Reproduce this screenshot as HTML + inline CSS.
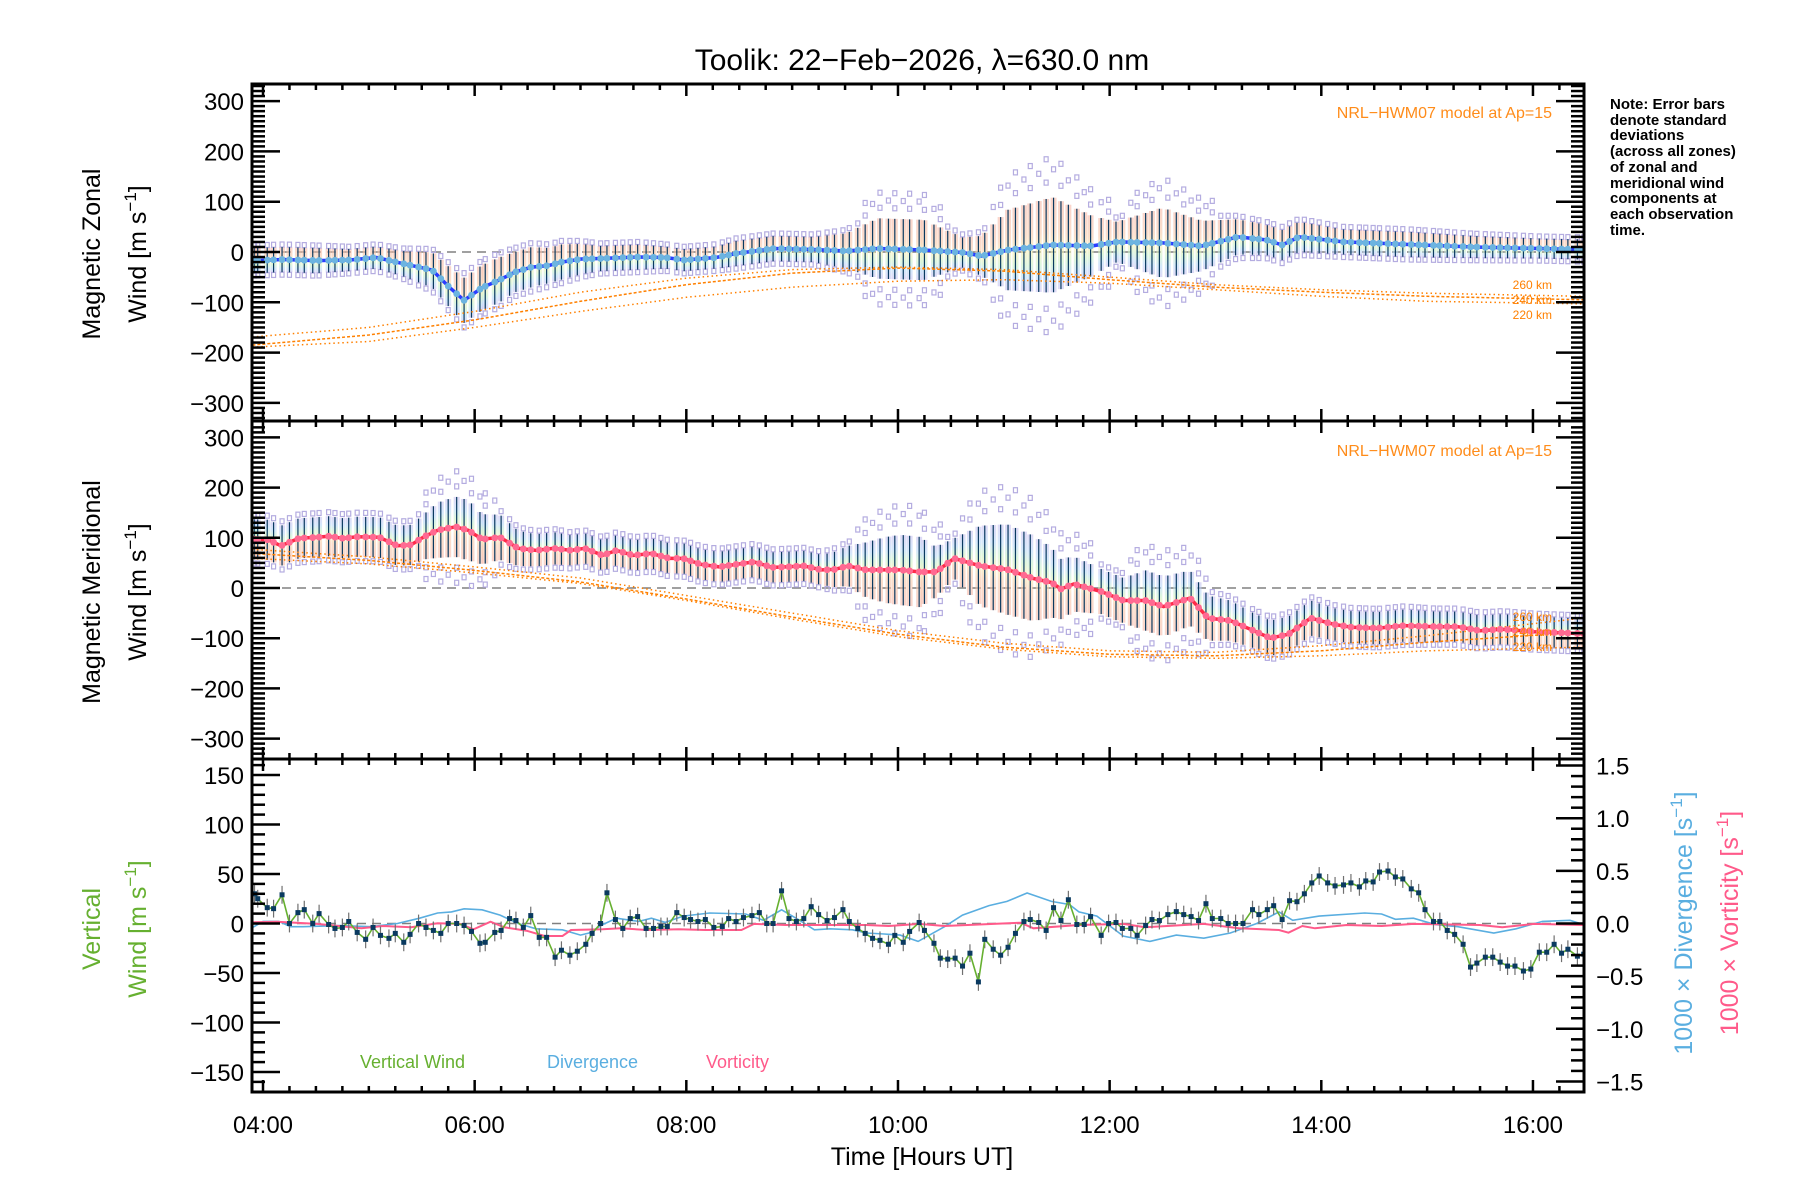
<!DOCTYPE html>
<html><head><meta charset="utf-8"><title>Toolik winds</title>
<style>
html,body{margin:0;padding:0;background:#fff;}
svg{display:block;font-family:"Liberation Sans",sans-serif;}
</style></head>
<body>
<svg id="chart" width="1800" height="1200" viewBox="0 0 1800 1200" xmlns="http://www.w3.org/2000/svg">
<defs>
<linearGradient id="gz" x1="0" y1="0" x2="0" y2="1">
<stop offset="0" stop-color="#f6b8a8"/><stop offset="0.35" stop-color="#f8c8a8"/><stop offset="0.55" stop-color="#f4eeb0"/><stop offset="0.7" stop-color="#c8f0c8"/><stop offset="0.85" stop-color="#b8d8f8"/><stop offset="1" stop-color="#c8c0f0"/>
</linearGradient>
<linearGradient id="gm" x1="0" y1="0" x2="0" y2="1">
<stop offset="0" stop-color="#c8c0f0"/><stop offset="0.2" stop-color="#b8d8f8"/><stop offset="0.35" stop-color="#c8f0c8"/><stop offset="0.5" stop-color="#f4eeb0"/><stop offset="0.65" stop-color="#f8c8a8"/><stop offset="1" stop-color="#f6b8a8"/>
</linearGradient>
</defs>
<g id="layer-data"></g>
<g id="layer-axes"></g>
<text x="922" y="70" font-size="30" text-anchor="middle">Toolik: 22−Feb−2026, λ=630.0 nm</text>
<text transform="translate(100,254) rotate(-90)" font-size="25" text-anchor="middle">Magnetic Zonal</text>
<text transform="translate(146,254) rotate(-90)" font-size="25" text-anchor="middle">Wind [m s<tspan dy="-10" font-size="17">−1</tspan><tspan dy="10">]</tspan></text>
<text transform="translate(100,592) rotate(-90)" font-size="25" text-anchor="middle">Magnetic Meridional</text>
<text transform="translate(146,592) rotate(-90)" font-size="25" text-anchor="middle">Wind [m s<tspan dy="-10" font-size="17">−1</tspan><tspan dy="10">]</tspan></text>
<text transform="translate(100,929) rotate(-90)" font-size="25" text-anchor="middle" fill="#66b030">Vertical</text>
<text transform="translate(146,929) rotate(-90)" font-size="25" text-anchor="middle" fill="#66b030">Wind [m s<tspan dy="-10" font-size="17">−1</tspan><tspan dy="10">]</tspan></text>
<text transform="translate(1692,923) rotate(-90)" font-size="25" text-anchor="middle" fill="#5aaee0">1000 × Divergence [s<tspan dy="-10" font-size="17">−1</tspan><tspan dy="10">]</tspan></text>
<text transform="translate(1738,923) rotate(-90)" font-size="25" text-anchor="middle" fill="#ff5a8a">1000 × Vorticity [s<tspan dy="-10" font-size="17">−1</tspan><tspan dy="10">]</tspan></text>
<text x="922" y="1165" font-size="25" text-anchor="middle">Time [Hours UT]</text>
<text x="1552" y="118" font-size="16" text-anchor="end" fill="#ff8c1a">NRL−HWM07 model at Ap=15</text>
<text x="1552" y="456" font-size="16" text-anchor="end" fill="#ff8c1a">NRL−HWM07 model at Ap=15</text>
<text x="360" y="1068" font-size="18" fill="#66b030">Vertical Wind</text>
<text x="547" y="1068" font-size="18" fill="#5aaee0">Divergence</text>
<text x="706" y="1068" font-size="18" fill="#ff5a8a">Vorticity</text>
<text font-size="15" font-weight="bold" fill="#000">
<tspan x="1610" y="109">Note: Error bars</tspan><tspan x="1610" y="125">denote standard</tspan><tspan x="1610" y="140">deviations</tspan><tspan x="1610" y="156">(across all zones)</tspan><tspan x="1610" y="172">of zonal and</tspan><tspan x="1610" y="188">meridional wind</tspan><tspan x="1610" y="203">components at</tspan><tspan x="1610" y="219">each observation</tspan><tspan x="1610" y="235">time.</tspan>
</text>
</svg>
<script>
// ---------- data ----------
const tZ = [3.91,4.19,4.50,4.82,5.07,5.32,5.60,5.76,5.90,6.07,6.23,6.38,6.54,6.70,6.82,7.01,7.18,7.55,7.80,7.98,8.28,8.47,8.83,9.20,9.51,9.81,10.24,10.61,10.79,11.04,11.46,11.83,12.07,12.50,12.87,13.21,13.48,13.63,13.79,14.21,14.83,15.44,16.05,16.47];
const zonalWind = [-17,-15,-17,-16,-11,-23,-36,-70,-96,-71,-56,-40,-30,-27,-20,-14,-13,-10,-11,-16,-11,-3,7,5,2,7,4,-1,-8,4,14,12,20,18,12,30,24,14,30,20,15,10,7,5];
const zonalSigma = [25,25,25,22,22,25,35,40,45,45,45,40,40,35,35,30,25,25,22,22,22,25,25,25,35,60,60,30,40,80,95,60,40,70,50,35,30,30,30,25,25,22,20,20];

const tM = [3.90,4.05,4.17,4.34,4.51,4.62,4.76,4.89,5.10,5.27,5.40,5.52,5.65,5.82,5.94,6.07,6.24,6.41,6.58,6.75,6.91,7.04,7.21,7.34,7.50,7.67,7.84,7.97,8.14,8.31,8.47,8.64,8.81,8.94,9.11,9.28,9.40,9.53,9.70,9.87,10.02,10.20,10.36,10.53,10.78,11.03,11.28,11.45,11.54,11.66,11.92,12.13,12.34,12.51,12.76,12.93,13.14,13.35,13.52,13.69,13.90,14.11,14.28,14.53,14.78,15.08,15.29,15.50,15.71,16.01,16.26,16.47];
const meridWind = [97,96,84,99,101,103,99,102,101,84,86,102,115,122,115,97,101,79,75,79,75,79,65,75,65,69,59,59,47,42,47,52,41,42,44,36,37,44,36,36,36,32,32,59,44,37,19,11,-2,8,-7,-25,-25,-37,-20,-60,-65,-84,-100,-92,-60,-72,-78,-80,-75,-77,-77,-85,-82,-87,-89,-91];
const meridSigma = [40,40,40,40,40,40,40,40,40,40,40,45,55,60,60,50,45,35,32,32,30,30,30,30,30,30,30,30,30,30,30,30,30,30,30,30,35,40,55,65,70,70,50,40,80,90,85,70,60,55,45,45,60,60,55,45,40,35,35,35,35,32,32,32,32,30,30,30,30,30,30,30];

const tModel = [3.9,5,6,7,8,9,10,11,12,13,14,15,16.47];
const zModel260 = [-169,-150,-118,-80,-52,-35,-30,-35,-50,-65,-75,-82,-88];
const zModel240 = [-185,-165,-135,-98,-65,-42,-32,-38,-55,-70,-80,-88,-95];
const zModel220 = [-189,-178,-150,-118,-90,-70,-58,-55,-62,-75,-88,-98,-103];
const mModel260 = [77,62,42,20,-15,-50,-85,-110,-125,-128,-115,-95,-60];
const mModel240 = [69,55,35,12,-22,-58,-92,-118,-132,-135,-125,-108,-88];
const mModel220 = [59,48,30,9,-25,-62,-97,-122,-137,-140,-135,-125,-118];

const tV = [3.92,3.95,4.04,4.10,4.18,4.25,4.33,4.39,4.47,4.53,4.62,4.68,4.75,4.81,4.89,4.97,5.04,5.11,5.19,5.25,5.33,5.39,5.47,5.54,5.61,5.68,5.75,5.83,5.90,5.97,6.05,6.10,6.19,6.25,6.33,6.39,6.46,6.53,6.61,6.68,6.76,6.82,6.90,6.97,7.05,7.11,7.19,7.25,7.33,7.40,7.47,7.54,7.62,7.69,7.76,7.82,7.91,7.98,8.04,8.11,8.18,8.26,8.34,8.40,8.47,8.54,8.62,8.69,8.76,8.82,8.90,8.97,9.04,9.11,9.18,9.25,9.33,9.40,9.48,9.54,9.62,9.69,9.76,9.83,9.91,9.97,
10.05,10.11,10.20,10.25,10.34,10.40,10.47,10.54,10.61,10.68,10.76,10.82,10.90,10.97,11.04,11.11,11.19,11.25,11.33,11.40,11.47,11.54,11.61,11.69,11.76,11.82,11.92,11.99,12.06,12.12,12.20,12.26,12.34,12.40,12.47,12.55,12.63,12.70,12.77,12.84,12.91,12.97,13.05,13.12,13.19,13.26,13.35,13.41,13.49,13.55,13.63,13.70,13.77,13.84,13.91,13.98,14.06,14.13,14.21,14.28,14.36,14.42,14.49,14.55,14.63,14.70,14.77,14.85,14.92,14.98,15.06,15.12,15.19,15.26,15.34,15.41,15.47,15.55,15.62,15.69,15.76,15.83,15.91,15.98,16.06,16.13,16.20,16.27,16.33,16.42,16.48];
const vertWind = [30,25,16,15,29,0,11,14,0,10,-1,-5,-4,2,-9,-16,-4,-12,-15,-10,-19,-11,0,-4,-7,-10,0,0,-2,-8,-20,-19,-9,-7,5,3,-4,8,-14,-14,-34,-27,-32,-28,-21,-10,0,31,4,-5,5,7,-5,-5,-3,-3,11,6,4,2,4,-4,-3,5,2,6,8,11,0,0,33,5,2,5,17,9,3,6,14,2,-5,-10,-15,-17,-21,-12,
-19,-8,1,-7,-20,-35,-36,-35,-43,-30,-59,-16,-26,-32,-24,-10,2,4,1,-7,16,3,24,-1,-1,7,-12,0,1,-5,-5,-12,-2,4,3,9,12,9,7,3,20,5,5,0,0,0,14,9,14,18,4,23,22,30,41,48,41,38,39,41,37,43,42,52,53,47,45,35,31,14,2,2,-7,-11,-21,-44,-40,-34,-34,-39,-43,-43,-48,-46,-29,-29,-21,-30,-26,-33,-31];

const tDiv = [3.88,4.00,4.15,4.26,4.38,4.72,5.02,5.27,5.48,5.65,5.78,5.90,6.07,6.24,6.41,6.58,6.83,7.00,7.08,7.21,7.34,7.55,7.67,7.80,7.97,8.22,8.56,8.73,8.90,9.07,9.21,9.36,9.57,9.70,9.87,10.02,10.19,10.44,10.61,10.86,11.03,11.22,11.45,11.62,11.71,11.88,12.13,12.38,12.63,12.89,13.14,13.39,13.60,13.73,13.98,14.41,14.57,14.70,14.87,15.08,15.29,15.63,15.84,16.09,16.35,16.48];
const divergence = [-0.05,0.02,0.02,-0.03,-0.03,-0.02,-0.03,0,0.05,0.10,0.11,0.14,0.13,0.08,0,-0.05,-0.06,-0.11,-0.09,-0.01,0.05,0.02,0.05,0.01,0.07,0.10,0.09,0.03,0.13,0.03,-0.06,-0.05,-0.06,-0.09,-0.10,-0.11,-0.17,-0.03,0.08,0.17,0.21,0.29,0.21,0.18,0.11,0.07,-0.12,-0.17,-0.11,-0.14,-0.09,0,0.11,0.03,0.07,0.10,0.09,0.04,0.05,-0.01,-0.03,-0.09,-0.05,0.02,0.03,-0.01];

const tVort = [3.88,4.13,4.51,4.93,5.14,5.40,5.65,5.86,5.99,6.15,6.28,6.49,6.66,6.83,6.91,7.21,7.38,7.63,7.93,8.18,8.52,8.64,8.94,9.36,9.70,9.91,10.20,10.44,11.16,11.28,11.71,12.13,12.34,12.89,13.22,13.60,13.69,13.82,13.94,14.24,14.57,14.87,15.50,15.71,16.01,16.47];
const vorticity = [0.01,0.017,-0.004,-0.046,-0.024,-0.036,0.002,-0.004,-0.055,0.017,-0.036,-0.068,-0.119,-0.119,-0.062,-0.055,-0.046,-0.062,-0.055,-0.062,-0.062,-0.004,-0.014,-0.014,-0.014,-0.024,-0.004,-0.024,0.008,-0.046,-0.014,-0.004,-0.036,-0.004,-0.046,-0.062,-0.087,-0.024,-0.046,-0.014,-0.024,-0.004,-0.014,-0.036,-0.004,-0.014];

const xTickLabels = ["04:00","06:00","08:00","10:00","12:00","14:00","16:00"];
const windTickValues = [-300,-200,-100,0,100,200,300];
const vertTickValues = [-150,-100,-50,0,50,100,150];
const rightTickValues = [-1.5,-1.0,-0.5,0.0,0.5,1.0,1.5];

// ---------- geometry ----------
const L = 252, R = 1584;
const P = [{top:84,bot:421},{top:421,bot:759},{top:759,bot:1092}];
const X = t => 263 + (t - 4) * 105.83;
const Y1 = v => 252 - v * 0.503;
const Y2 = v => 588 - v * 0.502;
const Y3 = v => 923.5 - v * 0.99;
const Y3r = v => 923.5 - v * 105.3;

const NS = "http://www.w3.org/2000/svg";
const gData = document.getElementById("layer-data");
const gAxes = document.getElementById("layer-axes");
function mk(tag, attrs, parent) {
  const e = document.createElementNS(NS, tag);
  for (const k in attrs) e.setAttribute(k, attrs[k]);
  (parent || gData).appendChild(e);
  return e;
}
function interp(ts, vs, t) {
  if (t <= ts[0]) return vs[0];
  for (let i = 1; i < ts.length; i++) {
    if (t <= ts[i]) { const f = (t - ts[i-1]) / (ts[i] - ts[i-1]); return vs[i-1] + f * (vs[i] - vs[i-1]); }
  }
  return vs[vs.length - 1];
}
function pathFrom(ts, vs, yf) {
  return ts.map((t, i) => (i ? "L" : "M") + X(t).toFixed(1) + "," + yf(vs[i]).toFixed(1)).join(" ");
}

const defs = document.querySelector("defs");
P.forEach((p, i) => {
  const cp = mk("clipPath", {id: "clip" + i}, defs);
  mk("rect", {x: L, y: p.top, width: R - L, height: p.bot - p.top}, cp);
});

// ---------- panel 1 & 2 ----------
function windPanel(idx, yf, tArr, mArr, sArr, grad, lineCol, dotCol, models, nm) {
  const g = mk("g", {"clip-path": "url(#clip" + idx + ")"});
  
  
  const z = mk("line", {x1: L, x2: R, y1: yf(0), y2: yf(0), stroke: "#808080", "stroke-width": 1.5, "stroke-dasharray": "9,6"}, g);
  
  
  tV.forEach((t, j) => {
    const m = interp(tArr, mArr, t), s = interp(tArr, sArr, t), x = X(t);
    const r = mk("rect", {x: x - 3, y: yf(m + s), width: 6, height: yf(m - s) - yf(m + s), fill: "url(#" + grad + ")", opacity: 0.6}, g);
    
    
    const ks = s > 45 ? (j % 2 ? [1.35, 1.85] : [1.6]) : [1.2];
    ks.forEach(k => {
      [1, -1].forEach(sg => {
        const q = mk("rect", {x: x - 2, y: yf(m + sg * k * s) - 2.5, width: 4, height: 5, fill: "none", stroke: "#b4ace0", "stroke-width": 1.2}, g);
        
        
      });
    });
    const eb = mk("line", {x1: x, x2: x, y1: yf(m + s), y2: yf(m - s), stroke: "#0a3a60", "stroke-width": 1.2}, g);
    
    
  });
  models.forEach(md => {
    const pl = mk("path", {d: pathFrom(tModel, md.v, yf), fill: "none", stroke: "#ff8000", "stroke-width": 1.5, "stroke-dasharray": md.d}, g);
    
    
  });
  const ln = mk("path", {d: pathFrom(tArr, mArr, yf), fill: "none", stroke: lineCol, "stroke-width": 3.5, "stroke-linejoin": "round"}, g);
  
  
  tV.forEach(t => {
    const c = mk("circle", {cx: X(t), cy: yf(interp(tArr, mArr, t)), r: 3.4, fill: dotCol}, g);
    
    
  });
  const mid = yf(models[1].v[models[1].v.length - 1]);
  models.forEach((md, k) => {
    const tx = mk("text", {x: 1552, y: mid + (k - 1) * 15 + 4, "font-size": 12, fill: "#ff8000", "text-anchor": "end"}, gData);
    tx.textContent = md.km + " km";
    
    
  });
}
windPanel(0, Y1, tZ, zonalWind, zonalSigma, "gz", "#2a3cff", "#6cb4e0",
  [{v: zModel260, km: 260, d: "1.5,3"}, {v: zModel240, km: 240, d: "3,2"}, {v: zModel220, km: 220, d: "1.5,3"}], "zonal");
windPanel(1, Y2, tM, meridWind, meridSigma, "gm", "#ff2a48", "#ff6a92",
  [{v: mModel260, km: 260, d: "1.5,3"}, {v: mModel240, km: 240, d: "3,2"}, {v: mModel220, km: 220, d: "1.5,3"}], "meridional");

// ---------- panel 3 ----------
(function () {
  const g = mk("g", {"clip-path": "url(#clip2)"});
  
  
  const z = mk("line", {x1: L, x2: R, y1: Y3(0), y2: Y3(0), stroke: "#808080", "stroke-width": 1.5, "stroke-dasharray": "9,6"}, g);
  
  
  const dv = mk("path", {d: pathFrom(tDiv, divergence, Y3r), fill: "none", stroke: "#5aaee0", "stroke-width": 1.6}, g);
  
  
  const vo = mk("path", {d: pathFrom(tVort, vorticity, Y3r), fill: "none", stroke: "#ff5a8a", "stroke-width": 2}, g);
  
  
  tV.forEach((t, i) => {
    const eb = mk("line", {x1: X(t), x2: X(t), y1: Y3(vertWind[i] + 9), y2: Y3(vertWind[i] - 9), stroke: "#707070", "stroke-width": 1.2}, g);
    
    
  });
  const vl = mk("path", {d: pathFrom(tV, vertWind, Y3), fill: "none", stroke: "#66b030", "stroke-width": 1.6}, g);
  
  
  tV.forEach((t, i) => {
    const p = mk("rect", {x: X(t) - 2.5, y: Y3(vertWind[i]) - 2.5, width: 5, height: 5, fill: "#0a3a60"}, g);
    
    
  });
})();

// ---------- axes ----------
function tick(x1, y1, x2, y2, w) {
  const l = mk("line", {x1, y1, x2, y2, stroke: "#000", "stroke-width": w || 2}, gAxes);
  
  
}
function label(x, y, txt, anchor, nm) {
  const t = mk("text", {x, y, "font-size": 24, "text-anchor": anchor, fill: "#000"}, gAxes);
  t.textContent = txt;
  
  
}
const fmtNum = v => (v < 0 ? "−" : "") + Math.abs(v);
P.forEach((p, i) => {
  const fr = mk("rect", {x: L, y: p.top, width: R - L, height: p.bot - p.top, fill: "none", stroke: "#000", "stroke-width": 3}, gAxes);
  
  
  for (let m = 0; m <= 12.5 * 4; m++) {
    const t = 3.75 + m * 0.25;
    const x = X(t);
    if (x < L + 2 || x > R - 2) continue;
    const major = Math.abs((t - 4) % 2) < 1e-6;
    const len = major ? 12 : 6;
    tick(x, p.top, x, p.top + len, 2.5);
    tick(x, p.bot, x, p.bot - len, 2.5);
  }
});
[[0, Y1], [1, Y2]].forEach(([i, yf]) => {
  const p = P[i];
  for (let v = -340; v <= 340; v += 10) {
    const y = yf(v);
    if (y < p.top + 2 || y > p.bot - 2) continue;
    const major = v % 100 === 0;
    const len = major ? 28 : 13;
    tick(L, y, L + len, y, 2.5);
    tick(R, y, R - len, y, 2.5);
  }
  windTickValues.forEach(v => label(L - 8, yf(v) + 9, fmtNum(v), "end", (i ? 'meridional' : 'zonal') + '-y-tick-label'));
});
for (let v = -170; v <= 170; v += 10) {
  const y = Y3(v);
  if (y < P[2].top + 2 || y > P[2].bot - 2) continue;
  tick(L, y, L + (v % 50 === 0 ? 28 : 13), y, 2.5);
}
vertTickValues.forEach(v => label(L - 8, Y3(v) + 9, fmtNum(v), "end", 'vertical-y-tick-label'));
for (let k = -16; k <= 16; k++) {
  const v = k / 10, y = Y3r(v);
  if (y < P[2].top + 2 || y > P[2].bot - 2) continue;
  tick(R, y, R - (k % 5 === 0 ? 28 : 13), y, 2.5);
}
rightTickValues.forEach(v => label(R + 12, Y3r(v) + 9, (v < 0 ? "−" : "") + Math.abs(v).toFixed(1), "start", 'right-y-tick-label'));
xTickLabels.forEach((s, i) => label(X(4 + 2 * i), 1133, s, "middle", 'x-tick-label'));
</script>
</body></html>
